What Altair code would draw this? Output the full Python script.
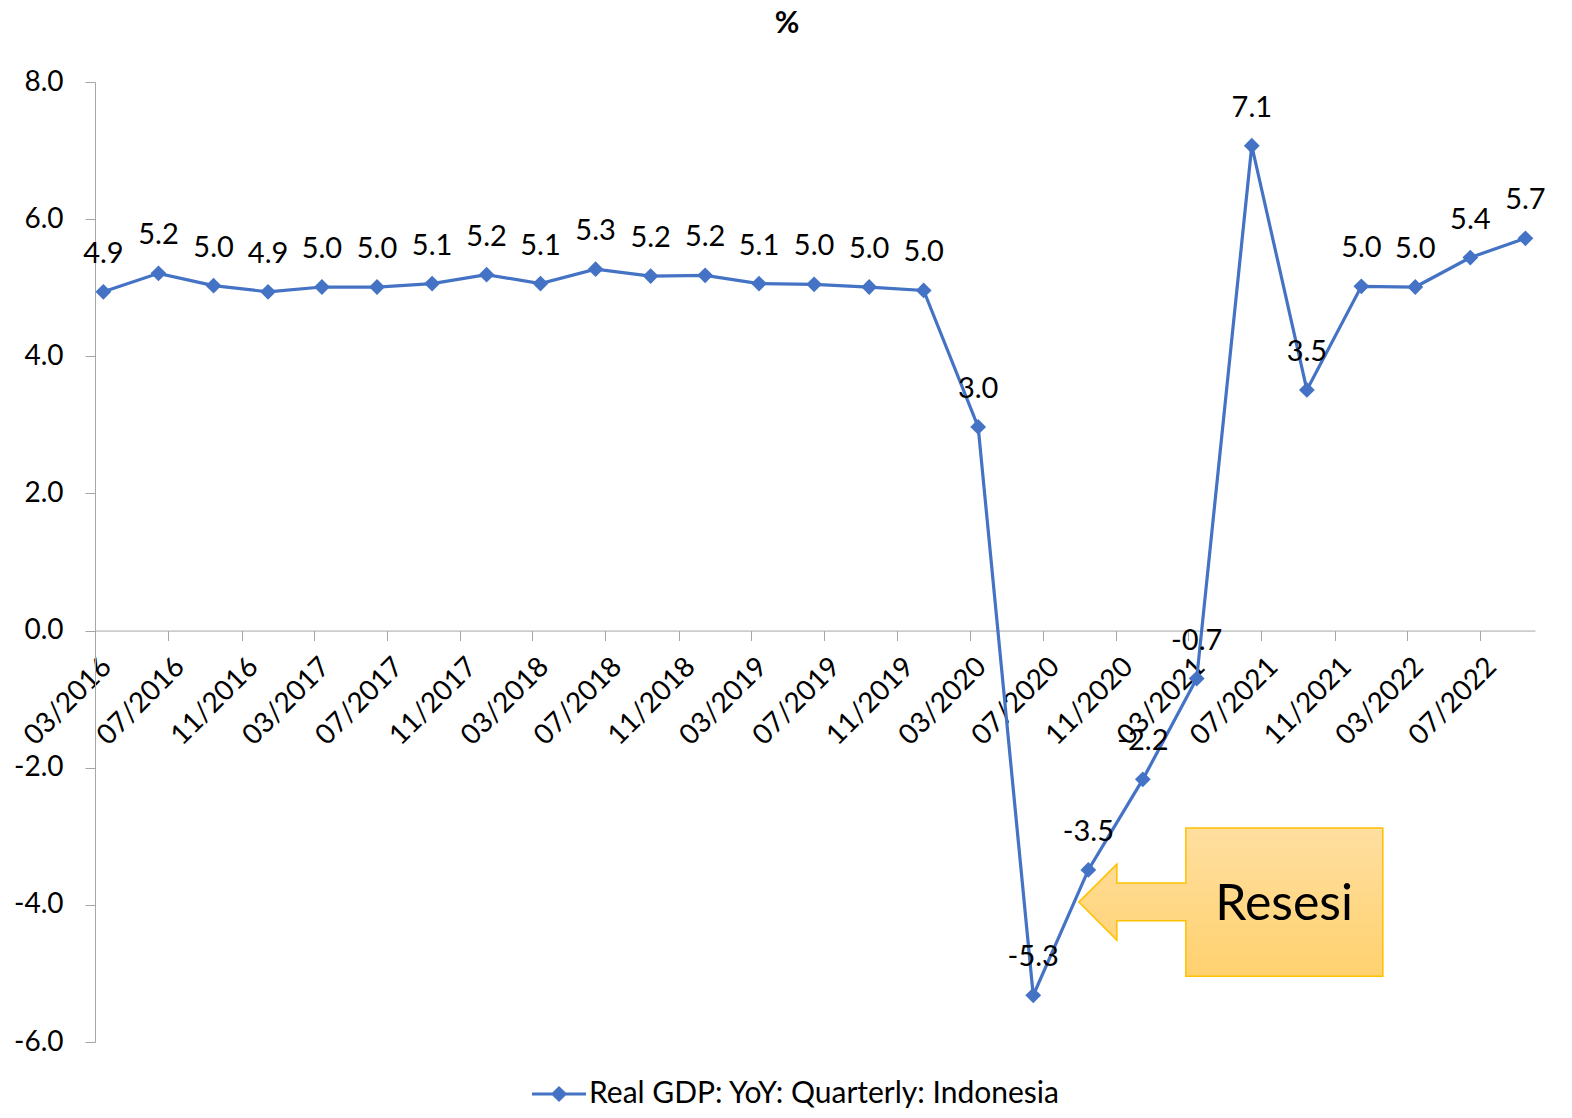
import altair as alt
import pandas as pd

# ---------------- data ----------------
series_name = "Real GDP: YoY: Quarterly: Indonesia"
quarter_dates = [
    "2016-03-15", "2016-06-15", "2016-09-15", "2016-12-15",
    "2017-03-15", "2017-06-15", "2017-09-15", "2017-12-15",
    "2018-03-15", "2018-06-15", "2018-09-15", "2018-12-15",
    "2019-03-15", "2019-06-15", "2019-09-15", "2019-12-15",
    "2020-03-15", "2020-06-15", "2020-09-15", "2020-12-15",
    "2021-03-15", "2021-06-15", "2021-09-15", "2021-12-15",
    "2022-03-15", "2022-06-15", "2022-09-15",
]
gdp_yoy = [
    4.94, 5.21, 5.03, 4.94,
    5.01, 5.01, 5.06, 5.19,
    5.06, 5.27, 5.17, 5.18,
    5.06, 5.05, 5.01, 4.96,
    2.97, -5.32, -3.49, -2.17,
    -0.70, 7.07, 3.51, 5.02,
    5.01, 5.44, 5.72,
]
x_tick_dates = [
    "2016-03-01", "2016-07-01", "2016-11-01", "2017-03-01", "2017-07-01",
    "2017-11-01", "2018-03-01", "2018-07-01", "2018-11-01", "2019-03-01",
    "2019-07-01", "2019-11-01", "2020-03-01", "2020-07-01", "2020-11-01",
    "2021-03-01", "2021-07-01", "2021-11-01", "2022-03-01", "2022-07-01",
]
x_domain = ["2016-03-01", "2022-10-01"]
y_ticks = [-6, -4, -2, 0, 2, 4, 6, 8]
y_domain = [-6, 8]

# annotation ("Resesi" callout)
callout_text = "Resesi"
callout_shape_date = ["2021-05-11"]
callout_text_date = ["2021-08-08"]
callout_value = [-3.96]

# ---------------- style ----------------
FONT = "Lato"
BLUE = "#4472C4"
AXIS_GRAY = "#A6A6A6"
W, H = 1440, 960

ARROW_PATH = ("M-1,0L-0.75,-0.25L-0.75,-0.125L-0.296,-0.125L-0.296,-0.487"
              "L1,-0.487L1,0.487L-0.296,0.487L-0.296,0.122L-0.75,0.122L-0.75,0.25Z")
LEGEND_PATH = "M-4.5,0L4.5,0M0,-1L1,0L0,1L-1,0Z"


def dt(s):
    yy, mm, dd = map(int, s.split("-"))
    return alt.DateTime(year=yy, month=mm, date=dd, utc=True)


MINUS_FIX = "replace(format(datum.value, '.1f'), '\u2212', '-')"

df = pd.DataFrame({"date": quarter_dates, "gdp": gdp_yoy, "series": series_name})
ann_shape = pd.DataFrame({"date": callout_shape_date, "gdp": callout_value})
ann_text = pd.DataFrame({"date": callout_text_date, "gdp": callout_value, "t": [callout_text]})

x_enc = alt.X(
    "date:T",
    scale=alt.Scale(type="utc", domain=[dt(s) for s in x_domain]),
    axis=alt.Axis(
        values=[dt(s) for s in x_tick_dates],
        labelExpr="utcFormat(datum.value, '%m/%Y')",
        labelAngle=-45,
        labelAlign="right",
        labelBaseline="top",
        labelOffset=2,
        labelPadding=12,
        labelFlush=False,
        labelOverlap=False,
        labelBound=False,
        tickSize=10,
        offset=-H * (0 - y_domain[0]) / (y_domain[1] - y_domain[0]),
        title=None,
        grid=False,
        domainColor=AXIS_GRAY,
        tickColor=AXIS_GRAY,
        labelFont=FONT,
        labelFontSize=28,
        labelColor="black",
    ),
)
y_enc = alt.Y(
    "gdp:Q",
    scale=alt.Scale(domain=y_domain, nice=False, zero=False),
    axis=alt.Axis(
        values=y_ticks,
        labelExpr=MINUS_FIX,
        tickSize=10,
        labelPadding=22,
        title=None,
        grid=False,
        domainColor=AXIS_GRAY,
        tickColor=AXIS_GRAY,
        labelFont=FONT,
        labelFontSize=28,
        labelColor="black",
    ),
)

gradient = alt.LinearGradient(
    gradient="linear",
    stops=[alt.GradientStop(color="#FFDFA0", offset=0),
           alt.GradientStop(color="#FFD16F", offset=1)],
    x1=0, x2=0, y1=0, y2=1,
)

callout = alt.Chart(ann_shape).mark_point(
    shape=ARROW_PATH, size=304 * 304, filled=True, fill=gradient,
    stroke="#FFC000", strokeWidth=1.5, opacity=1,
).encode(x=x_enc, y=y_enc)

callout_label = alt.Chart(ann_text).mark_text(
    font=FONT, fontSize=50, color="black", baseline="alphabetic", dy=18,
).encode(x=x_enc, y=y_enc, text="t:N")

line = alt.Chart(df).mark_line(color=BLUE, strokeWidth=3.2).encode(x=x_enc, y=y_enc)

points = alt.Chart(df).mark_point(
    shape="diamond", filled=True, size=250, opacity=1,
).encode(
    x=x_enc,
    y=y_enc,
    color=alt.Color(
        "series:N",
        scale=alt.Scale(range=[BLUE]),
        legend=alt.Legend(
            title=None,
            orient="none",
            legendX=449,
            legendY=997,
            symbolType=LEGEND_PATH,
            symbolSize=144,
            symbolStrokeColor=BLUE,
            symbolStrokeWidth=3,
            symbolFillColor=BLUE,
            labelFont=FONT,
            labelFontSize=30,
            labelColor="black",
            labelOffset=15,
            labelLimit=0,
            padding=0,
        ),
    ),
)

labels = alt.Chart(df).transform_calculate(
    lbl="replace(format(datum.gdp, '.1f'), '\u2212', '-')"
).mark_text(
    font=FONT, fontSize=29, color="black", baseline="alphabetic", dy=-29,
).encode(x=x_enc, y=y_enc, text="lbl:N")

chart = alt.layer(callout, callout_label, line, points, labels).properties(
    width=W,
    height=H,
    autosize="none",
    padding={"left": 87, "top": 74, "right": 29, "bottom": 66},
    title=alt.Title(
        "%", font=FONT, fontSize=30, fontWeight="bold", color="black",
        anchor="middle", dx=-28, offset=5, baseline="alphabetic",
    ),
).configure_view(stroke=None)

chart.save("out.html", embed_options={"renderer": "svg", "actions": False})
